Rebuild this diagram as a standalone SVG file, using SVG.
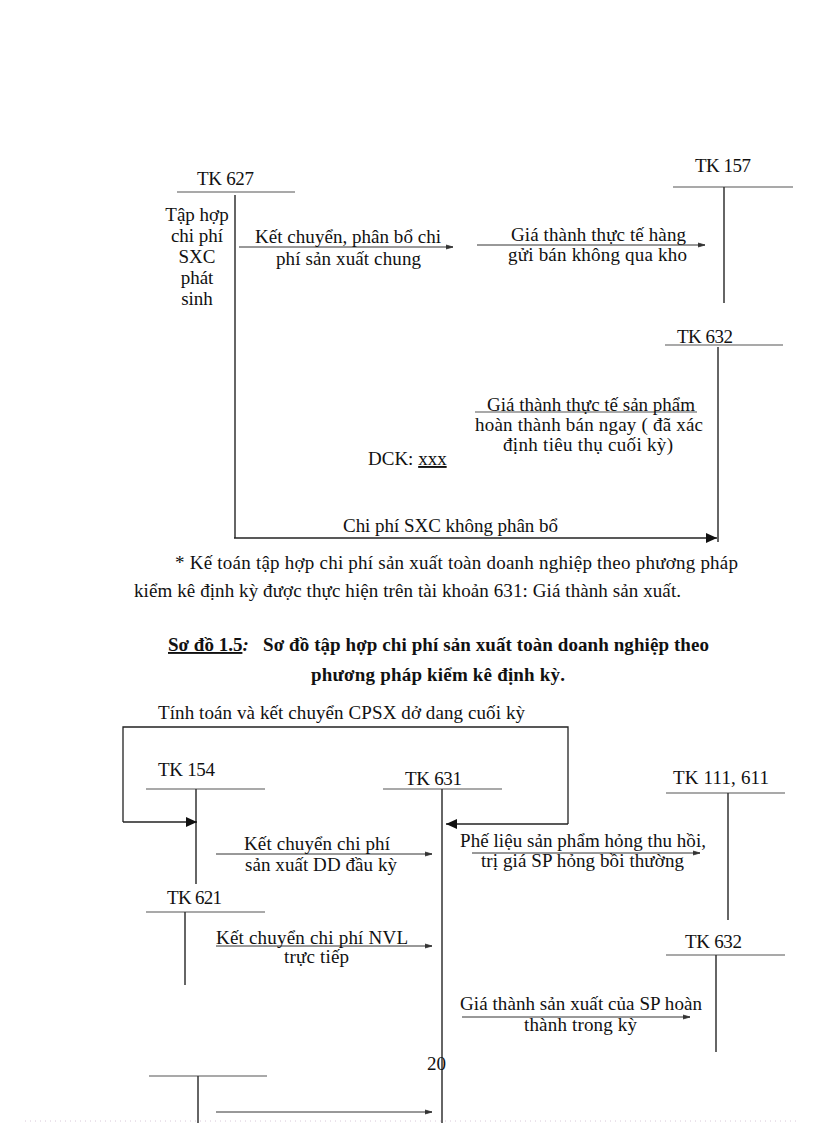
<svg xmlns="http://www.w3.org/2000/svg" width="816" height="1123" viewBox="0 0 816 1123">
<defs>
<style>
text{font-family:"Liberation Serif","Times New Roman",serif;font-size:19px;fill:#111}
.b{font-weight:bold}
.h{stroke:#555;stroke-width:1.2;fill:none}
.v{stroke:#333;stroke-width:1.5;fill:none}
.a{stroke:#333;stroke-width:1;fill:none;marker-end:url(#sm)}
.A{stroke:#222;stroke-width:1.3;fill:none;marker-end:url(#bm)}
</style>
<marker id="sm" markerWidth="8" markerHeight="6" refX="7" refY="3" orient="auto" markerUnits="userSpaceOnUse">
<path d="M0,1 L7,3 L0,5" fill="#333" stroke="#333" stroke-width="0.8"/>
</marker>
<marker id="bm" markerWidth="12" markerHeight="10" refX="11" refY="5" orient="auto" markerUnits="userSpaceOnUse">
<path d="M0,0 L11,5 L0,10 Z" fill="#111"/>
</marker>
</defs>
<rect width="816" height="1123" fill="#fff"/>

<g id="tk627">
<text x="197" y="185" textLength="57">TK 627</text>
<line class="h" x1="177" y1="192" x2="295" y2="192"/>
<text x="197" y="221" text-anchor="middle">Tập hợp</text>
<text x="197" y="242" text-anchor="middle">chi phí</text>
<text x="197" y="263" text-anchor="middle">SXC</text>
<text x="197" y="284" text-anchor="middle">phát</text>
<text x="197" y="305" text-anchor="middle">sinh</text>
</g>
<g id="tk157">
<text x="695" y="172" textLength="56">TK 157</text>
<line class="h" x1="673" y1="187" x2="793" y2="187"/>
<line class="v" x1="724" y1="187" x2="724" y2="303"/>
</g>
<g id="tk632a">
<text x="677" y="343" textLength="56">TK 632</text>
<line class="h" x1="665" y1="345" x2="783" y2="345"/>
<line class="v" x1="718" y1="347" x2="718" y2="542"/>
</g>
<g id="dck">
<text x="368" y="465">DCK: <tspan text-decoration="underline">xxx</tspan></text>
</g>

<g id="connectors-top">
<line class="v" x1="235" y1="195" x2="235" y2="538"/>
<line class="a" x1="239" y1="247" x2="453" y2="247"/>
<line class="a" x1="477" y1="245" x2="705" y2="245"/>
<line class="h" x1="475" y1="412" x2="697" y2="412"/>
<line class="A" x1="234" y1="538" x2="717" y2="538"/>
</g>
<g id="labels-top">
<text x="255" y="243" textLength="186">Kết chuyển, phân bổ chi</text>
<text x="276" y="265" textLength="145">phí sản xuất chung</text>
<text x="511" y="241" textLength="175">Giá thành thực tế hàng</text>
<text x="508" y="261" textLength="179">gửi bán không qua kho</text>
<text x="487" y="411" textLength="208">Giá thành thực tế sản phẩm</text>
<text x="475" y="431" textLength="228">hoàn thành bán ngay ( đã xác</text>
<text x="503" y="451" textLength="170">định tiêu thụ cuối kỳ)</text>
<text x="343" y="532" textLength="215">Chi phí SXC không phân bổ</text>
</g>

<g id="paragraph">
<text x="175" y="569" textLength="563">* Kế toán tập hợp chi phí sản xuất toàn doanh nghiệp  theo phương pháp</text>
<text x="134" y="597" textLength="547">kiểm kê định kỳ được thực hiện trên tài khoản 631: Giá thành sản xuất.</text>
<text class="b" x="168" y="651"><tspan text-decoration="underline">Sơ đồ 1.5</tspan><tspan font-style="italic">:</tspan></text>
<text class="b" x="263" y="651" textLength="446">Sơ đồ tập hợp chi phí sản xuất toàn doanh nghiệp theo</text>
<text class="b" x="311" y="681" textLength="254">phương pháp kiểm kê định kỳ.</text>
</g>

<g id="tk154">
<text x="158" y="776" textLength="57">TK 154</text>
<line class="h" x1="146" y1="789" x2="265" y2="789"/>
<line class="v" x1="196" y1="789" x2="196" y2="884"/>
</g>
<g id="tk631">
<text x="405" y="785" textLength="57">TK 631</text>
<line class="h" x1="383" y1="789" x2="502" y2="789"/>
<line class="v" x1="442" y1="789" x2="442" y2="1123"/>
</g>
<g id="tk111">
<text x="673" y="784" textLength="96">TK 111, 611</text>
<line class="h" x1="666" y1="793" x2="785" y2="793"/>
<line class="v" x1="728" y1="793" x2="728" y2="920"/>
</g>
<g id="tk621">
<text x="167" y="904" textLength="55">TK 621</text>
<line class="h" x1="146" y1="912" x2="265" y2="912"/>
<line class="v" x1="185" y1="912" x2="185" y2="985"/>
</g>
<g id="tk632b">
<text x="685" y="948" textLength="57">TK 632</text>
<line class="h" x1="666" y1="955" x2="785" y2="955"/>
<line class="v" x1="716" y1="955" x2="716" y2="1052"/>
</g>
<g id="tkblank">
<line class="h" x1="149" y1="1076" x2="267" y2="1076"/>
<line class="v" x1="198" y1="1076" x2="198" y2="1123"/>
</g>

<g id="connectors-bottom">
<polyline stroke="#222" stroke-width="1.3" fill="none" points="568,824 568,727 123,727 123,822"/>
<line class="A" x1="123" y1="822" x2="197" y2="822"/>
<line class="A" x1="568" y1="824" x2="446" y2="824"/>
<line class="a" x1="216" y1="854" x2="432" y2="854"/>
<line class="a" x1="472" y1="853" x2="700" y2="853"/>
<line class="a" x1="216" y1="946" x2="432" y2="946"/>
<line class="a" x1="462" y1="1017" x2="690" y2="1017"/>
<line class="a" x1="216" y1="1112" x2="432" y2="1112"/>
</g>
<g id="labels-bottom">
<text x="158" y="719" textLength="367">Tính toán và kết chuyển CPSX dở dang cuối kỳ</text>
<text x="244" y="850" textLength="146">Kết chuyển chi phí</text>
<text x="245" y="871" textLength="152">sản xuất DD đầu kỳ</text>
<text x="460" y="847" textLength="246">Phế liệu  sản phẩm hỏng thu hồi,</text>
<text x="481" y="867" textLength="203">trị giá SP hỏng bồi thường</text>
<text x="216" y="944" textLength="192">Kết chuyển chi phí NVL</text>
<text x="284" y="963" textLength="65">trực tiếp</text>
<text x="460" y="1010" textLength="242">Giá thành sản xuất của SP hoàn</text>
<text x="524" y="1031" textLength="113">thành trong kỳ</text>
<text x="427" y="1070">20</text>
</g>
<line x1="25" y1="1121" x2="800" y2="1121" stroke="#d8c8d8" stroke-width="1" stroke-dasharray="1,4"/>
</svg>
